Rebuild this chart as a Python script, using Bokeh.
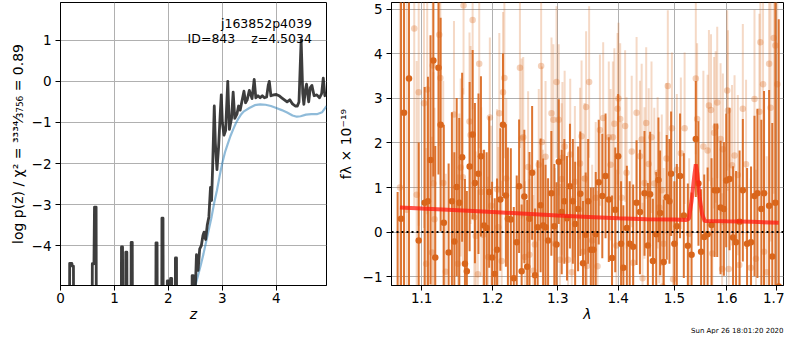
import numpy as np
from bokeh.plotting import figure
from bokeh.models import (Range1d, FixedTicker, CustomJSTickFormatter, Span, Label, Title,
                          ColumnDataSource)
from bokeh.layouts import row
from bokeh.embed import file_html
from bokeh.resources import INLINE

FONT = "DejaVu Sans"

# ---------------- left panel: log p(z) ----------------
z_pz = [0.00, 0.16, 0.17, 0.21, 0.22, 0.24, 0.25, 0.58, 0.59, 0.62, 0.63, 0.66, 0.67,
        1.12, 1.13, 1.15, 1.16, 1.20, 1.21, 1.23, 1.24, 1.30, 1.31, 1.33, 1.34,
        1.76, 1.77, 1.79, 1.80, 1.87, 1.88, 1.90, 1.91, 1.97, 1.98, 2.00, 2.01,
        2.03, 2.04, 2.06, 2.07, 2.12, 2.13, 2.15, 2.16, 2.43, 2.44, 2.46, 2.49,
        2.52, 2.55, 2.58, 2.61, 2.64, 2.66, 2.69, 2.72, 2.75, 2.78, 2.80, 2.82,
        2.85, 2.87, 2.90, 2.93, 2.96, 2.98, 3.00, 3.03, 3.06, 3.10, 3.13, 3.17,
        3.20, 3.23, 3.27, 3.30, 3.33, 3.36, 3.40, 3.43, 3.46, 3.50, 3.55, 3.59,
        3.62, 3.66, 3.70, 3.74, 3.78, 3.82, 3.85, 3.87, 3.90, 3.95, 4.00, 4.05,
        4.10, 4.15, 4.20, 4.25, 4.30, 4.35, 4.39, 4.42, 4.46, 4.49, 4.51, 4.54,
        4.56, 4.60, 4.63, 4.66, 4.70, 4.75, 4.80, 4.84, 4.87, 4.90, 4.93]
log_pz = [-10, -10, -4.43, -4.43, -4.50, -4.50, -10, -10, -4.44, -4.44, -3.06, -3.06, -10,
          -10, -4.03, -4.03, -10, -10, -4.16, -4.16, -10, -10, -3.92, -3.92, -10,
          -10, -3.93, -3.93, -10, -10, -3.33, -3.33, -10, -10, -4.86, -4.86, -10,
          -10, -4.80, -4.80, -10, -10, -4.30, -4.30, -10, -10, -4.73, -4.73, -5.40,
          -4.22, -4.60, -4.08, -4.00, -3.75, -3.67, -3.85, -3.50, -3.30, -2.58, -2.90, -2.08,
          -0.60, -1.50, -2.15, -1.60, -0.80, -0.33, -1.00, -1.31, -1.20, 0.00, -1.17, -0.90,
          -0.26, -0.90, -0.80, -0.60, -0.70, -0.50, -0.24, -0.52, -0.45, -0.22, -0.42, 0.05,
          -0.40, -0.35, -0.40, -0.35, -0.40, -0.38, -0.10, 0.00, -0.35, -0.33, -0.32, -0.35,
          -0.40, -0.45, -0.50, -0.45, -0.55, -0.60, -0.60, -0.50, 1.01, -0.30, -0.56, -0.20,
          -0.07, -0.50, -0.15, -0.10, -0.35, -0.33, -0.40, -0.30, 0.08, -0.35, -0.30]

z_prior = [2.50, 2.55, 2.60, 2.65, 2.70, 2.75, 2.80, 2.85, 2.90, 2.95, 3.00, 3.05, 3.10,
           3.15, 3.20, 3.25, 3.30, 3.35, 3.40, 3.50, 3.60, 3.70, 3.80, 3.90, 4.00, 4.10,
           4.20, 4.30, 4.38, 4.45, 4.55, 4.65, 4.75, 4.85, 4.93]
log_prior = [-4.97, -4.72, -4.47, -4.20, -3.90, -3.60, -3.30, -2.95, -2.65, -2.30, -1.98,
             -1.72, -1.52, -1.33, -1.17, -1.02, -0.90, -0.80, -0.73, -0.65, -0.58, -0.56,
             -0.57, -0.60, -0.65, -0.70, -0.76, -0.83, -0.86, -0.85, -0.81, -0.80, -0.80,
             -0.75, -0.60]

z_ticks = [0, 1, 2, 3, 4]
pz_ticks = [-4, -3, -2, -1, 0, 1]

# ---------------- right panel: spectrum ----------------
wl_dark = [1.068, 1.0725, 1.0764, 1.083, 1.096, 1.104, 1.1085, 1.112, 1.1159, 1.1185, 1.1229,
           1.1259, 1.1303, 1.137, 1.1416, 1.145, 1.1483, 1.1519, 1.156, 1.160, 1.1627,
           1.1667, 1.171, 1.1743, 1.1794, 1.183, 1.1875, 1.1913, 1.195, 1.1993, 1.2032,
           1.2066, 1.2115, 1.2154, 1.2198, 1.2228, 1.2272, 1.2317, 1.2361, 1.2397, 1.2436,
           1.2477, 1.2521, 1.2556, 1.2597, 1.2642, 1.2683, 1.2729, 1.2769, 1.2806, 1.2846,
           1.2898, 1.2945, 1.298, 1.3016, 1.3063, 1.3105, 1.3148, 1.3196, 1.3243, 1.328,
           1.3328, 1.3365, 1.3409, 1.3453, 1.3494, 1.3538, 1.358, 1.362, 1.367, 1.373,
           1.3785, 1.384, 1.3895, 1.395, 1.400, 1.405, 1.409, 1.415, 1.420, 1.426, 1.432,
           1.438, 1.446, 1.452, 1.456, 1.461, 1.467, 1.471, 1.474, 1.4805, 1.486, 1.491,
           1.494, 1.500, 1.5045, 1.5105, 1.5175, 1.525, 1.532, 1.540, 1.545, 1.550, 1.556,
           1.5625, 1.570, 1.576, 1.581, 1.5875, 1.594, 1.5985, 1.605, 1.612, 1.618, 1.625,
           1.6315, 1.640, 1.648, 1.655, 1.661, 1.669, 1.6745, 1.685, 1.6915, 1.698, 1.705,
           1.719]
fl_dark = [-1.60, 0.30, 2.68, 3.45, -0.19, 0.66, 0.69, 1.62, 3.85, -0.57, 3.69,
           2.41, 0.21, -0.46, 0.69, -0.21, 1.01, 0.66, 1.68, -0.71, -0.88,
           1.47, 2.19, 1.10, 1.31, 1.70, 0.15, 0.09, 0.90, -0.57, -0.94,
           -0.40, 0.73, 2.41, 0.82, 0.30, 0.28, -1.04, -0.23, 1.03, -0.88,
           0.80, -0.78, 0.30, 1.33, -0.97, 0.11, 0.60, 0.15, 0.11, -0.19,
           0.87, 0.13, -0.28, 1.58, 0.45, 0.69, 0.31, 1.03, 0.69, 0.18,
           0.52, 0.86, -0.70, -0.06, 0.69, -0.40, -0.40, -0.05, 1.12, 0.81,
           1.26, 0.73, -0.58, 0.50, 1.70, -0.26, -0.80, 0.09, -0.26, -0.33, 0.66,
           0.45, 0.87, -0.30, 0.85, -0.65, -0.05, 1.17, 0.43, -0.67, 0.78, 0.69,
           1.31, -0.26, 0.13, 1.26, 0.37, -0.31, -0.51, 2.09, 1.09, -0.44, -0.11,
           -0.05, 0.16, 0.94, 0.94, 0.55, 0.52, 1.16, 1.19, -0.12, -0.23, 0.23,
           0.94, -0.26, -0.23, 0.81, 0.87, 0.52, 0.87, 0.59, -0.55, 0.66, -1.22,
           -1.50]
er_dark = [2.50, 7.0, 7.0, 7.0, 2.2, 2.6, 2.8, 2.8, 2.6, 2.5, 2.4,
           2.4, 2.2, 2.0, 2.0, 2.0, 2.0, 1.9, 1.9, 1.9, 1.8,
           1.9, 1.9, 1.8, 1.8, 1.8, 1.7, 1.7, 1.7, 1.7, 1.7,
           1.6, 1.6, 1.6, 1.6, 1.6, 1.6, 1.6, 1.5, 1.5, 1.5,
           1.5, 1.5, 1.5, 1.5, 1.5, 1.5, 1.5, 1.5, 1.4, 1.4,
           1.4, 1.4, 1.4, 1.4, 1.4, 1.4, 1.4, 1.4, 1.4, 1.4,
           1.4, 1.4, 1.4, 1.4, 1.4, 1.4, 1.4, 1.4, 1.4, 1.4,
           1.4, 1.4, 1.4, 1.4, 1.4, 1.4, 1.4, 1.4, 1.4, 1.4, 1.4,
           1.4, 1.4, 1.4, 1.4, 1.4, 1.4, 1.4, 1.4, 1.4, 1.4, 1.4,
           1.4, 1.4, 1.4, 1.4, 1.4, 1.4, 1.4, 1.3, 1.4, 1.4, 1.4,
           1.5, 1.5, 1.5, 1.5, 1.5, 1.5, 1.5, 1.6, 1.6, 1.6, 1.6,
           1.6, 1.7, 1.7, 1.8, 1.9, 2.0, 2.3, 2.6, 3.0, 4.5, 6.0,
           3.3]

wl_light = [1.071, 1.080, 1.0900, 1.0933, 1.096, 1.1031, 1.106, 1.1075, 1.114, 1.115, 1.116,
            1.1175, 1.124, 1.1255, 1.1295, 1.133, 1.1445, 1.1500, 1.152, 1.154, 1.157,
            1.158, 1.1665, 1.168, 1.171, 1.1735, 1.1755, 1.1785, 1.1805, 1.1834, 1.186,
            1.1935, 1.196, 1.198, 1.2066, 1.2085, 1.21, 1.2135, 1.2155, 1.2175, 1.2204,
            1.241, 1.2436, 1.246, 1.2485, 1.2535, 1.2555, 1.2615, 1.264, 1.27, 1.2737,
            1.275, 1.2765, 1.2806, 1.29, 1.293, 1.2955, 1.298, 1.3015, 1.3035, 1.3063,
            1.3074, 1.311, 1.3165, 1.32, 1.3225, 1.3276, 1.336, 1.3385, 1.341, 1.3435,
            1.346, 1.3475, 1.351, 1.356, 1.362, 1.365, 1.369, 1.3745, 1.384, 1.387,
            1.391, 1.3935, 1.397, 1.399, 1.4005, 1.4035, 1.406, 1.412, 1.4145, 1.4235,
            1.426, 1.432, 1.438, 1.441, 1.4425, 1.446, 1.449, 1.4535, 1.4585, 1.4635,
            1.4695, 1.4725, 1.477, 1.4785, 1.4805, 1.4855, 1.488, 1.4955, 1.4975, 1.5045,
            1.512, 1.519, 1.5275, 1.540, 1.5425, 1.5544, 1.5625, 1.565, 1.569, 1.5715,
            1.575, 1.578, 1.581, 1.5875, 1.5905, 1.592, 1.6005, 1.602, 1.6035, 1.610,
            1.615, 1.6215, 1.6245, 1.6315, 1.638, 1.6475, 1.655, 1.658, 1.665, 1.667,
            1.6725, 1.6745, 1.680, 1.685, 1.688, 1.6945, 1.698, 1.702]
fl_light = [1.00, 0.50, 4.57, 0.84, 3.14, 2.89, -0.71, 3.20, -0.46, 3.74, 1.09,
            0.29, 4.43, 3.46, 1.10, -0.89, 2.64, -0.71, 0.66, 1.45, 1.23,
            5.09, 2.48, 2.18, 4.76, 0.33, -0.09, -0.95, 3.78, 0.90, -0.06,
            -0.56, 2.57, 0.59, 0.96, 0.11, 2.67, -0.65, 3.14, 3.46, 1.20,
            3.69, 2.10, 2.13, -0.56, 1.46, -0.51, -0.87, -0.28, 1.51, 3.73,
            2.02, 0.15, 1.69, 2.67, 2.52, -0.26, 3.37, 2.52, -0.62, 1.19,
            1.67, 1.92, -0.62, 1.74, -0.90, 1.13, 1.54, 2.15, -0.44, 1.20,
            2.81, -0.76, 3.37, -0.19, 0.77, -0.77, 2.29, 2.56, 2.13, 1.51,
            2.13, 2.43, -0.30, 2.77, 3.00, 2.54, 0.77, 2.38, 1.33, 1.81,
            -0.69, 2.68, 1.70, 2.08, -1.04, 1.10, 2.45, 1.53, 2.13, 1.09,
            1.33, 0.55, 0.94, -1.22, -0.26, 1.65, 3.28, 2.33, -1.06, 1.40,
            1.77, 2.33, -0.04, 3.45, 2.54, 1.92, 1.83, 2.84, 2.74, -0.48,
            2.23, 2.36, 2.91, 2.09, -0.83, 1.86, 3.18, 2.73, -0.83, 1.50,
            1.72, 1.28, -0.74, 2.77, 1.52, -0.80, 2.99, -0.60, 2.70, 4.26,
            3.32, -0.44, -0.90, 3.78, 2.79, 4.36, 4.19, 3.32]
er_light = [6.0, 6.0, 4.0, 3.0, 3.0, 2.8, 2.6, 2.8, 2.6, 2.6, 2.5,
            2.5, 2.5, 2.4, 2.3, 2.2, 2.1, 2.0, 2.0, 2.0, 2.0,
            2.0, 2.0, 2.0, 2.0, 1.9, 1.9, 1.9, 1.9, 1.9, 1.9,
            1.8, 1.8, 1.8, 1.8, 1.8, 1.8, 1.8, 1.8, 1.8, 1.8,
            1.8, 1.8, 1.8, 1.7, 1.7, 1.7, 1.7, 1.7, 1.7, 1.7,
            1.7, 1.7, 1.7, 1.7, 1.7, 1.7, 1.7, 1.7, 1.7, 1.7,
            1.7, 1.7, 1.7, 1.7, 1.7, 1.7, 1.7, 1.7, 1.7, 1.7,
            1.7, 1.7, 1.7, 1.7, 1.7, 1.7, 1.7, 1.7, 1.7, 1.7,
            1.7, 1.7, 1.7, 1.7, 1.7, 1.7, 1.7, 1.7, 1.7, 1.7,
            1.7, 1.7, 1.7, 1.7, 1.7, 1.7, 1.7, 1.7, 1.7, 1.7,
            1.7, 1.7, 1.7, 1.7, 1.7, 1.7, 1.7, 1.7, 1.7, 1.7,
            1.7, 1.7, 1.7, 1.7, 1.7, 1.7, 1.7, 1.7, 1.7, 1.7,
            1.7, 1.7, 1.7, 1.7, 1.7, 1.7, 1.8, 1.8, 1.8, 1.8,
            1.8, 1.8, 1.8, 1.9, 1.9, 2.0, 2.0, 2.0, 2.2, 2.2,
            2.4, 2.4, 2.6, 2.8, 3.0, 3.5, 4.0, 5.0]

wl_model = [1.071, 1.10, 1.15, 1.20, 1.25, 1.30, 1.35, 1.40, 1.45, 1.50, 1.522, 1.527,
            1.532, 1.537, 1.540, 1.543, 1.547, 1.552, 1.557, 1.60, 1.65, 1.705]
fl_model = [0.55, 0.53, 0.49, 0.45, 0.41, 0.37, 0.34, 0.31, 0.29, 0.28, 0.27, 0.30,
            0.70, 1.25, 1.52, 1.30, 0.80, 0.40, 0.25, 0.24, 0.23, 0.21]

wl_ticks = [1.1, 1.2, 1.3, 1.4, 1.5, 1.6, 1.7]
fl_ticks = [-1, 0, 1, 2, 3, 4, 5]

DARK = "#d9661c"
MINUS_FMT = "return tick < 0 ? '\\u2212' + (-tick) : '' + tick;"
BOTTOM = 48


def style(p, xticks, yticks, xfmt, xlabel, ylabel, ylab_standoff):
    p.outline_line_color = "black"
    p.outline_line_width = 1
    p.outline_line_alpha = 1
    p.xaxis.ticker = FixedTicker(ticks=xticks)
    p.yaxis.ticker = FixedTicker(ticks=yticks)
    p.xaxis.formatter = CustomJSTickFormatter(code=xfmt)
    p.yaxis.formatter = CustomJSTickFormatter(code=MINUS_FMT)
    for ax in (p.xaxis[0], p.yaxis[0]):
        ax.major_tick_out = 5
        ax.major_tick_in = 0
        ax.minor_tick_out = 0
        ax.minor_tick_in = 0
        ax.major_tick_line_color = "black"
        ax.axis_line_color = "black"
        ax.major_label_text_font = FONT
        ax.major_label_text_font_size = "13.5px"
        ax.major_label_text_color = "black"
        ax.axis_label_text_font = FONT
        ax.axis_label_text_font_size = "14px"
        ax.axis_label_text_color = "black"
    p.xaxis.major_label_standoff = 2
    p.yaxis.major_label_standoff = 4
    p.xaxis.axis_label = xlabel
    p.xaxis.axis_label_text_font_style = "italic"
    p.xaxis.axis_label_standoff = 0
    p.yaxis.axis_label = ylabel
    p.yaxis.axis_label_text_font_style = "normal"
    p.yaxis.axis_label_standoff = ylab_standoff
    p.grid.grid_line_color = "#b0b0b0"
    p.grid.grid_line_width = 1


# ---------- left figure ----------
p1 = figure(width=330, height=334, x_range=Range1d(0, 4.93), y_range=Range1d(-4.97, 1.92),
            output_backend="svg", toolbar_location=None,
            min_border_left=60, min_border_right=4, min_border_top=2, min_border_bottom=BOTTOM)
style(p1, z_ticks, pz_ticks, MINUS_FMT, "z",
      "log p(z) / \u03c7\u00b2 = \u00b3\u00b3\u00b3\u2074\u2044\u2083\u2087\u2085\u2086 = 0.89", 3)

p1.line(z_prior, log_prior, line_color="#1f77b4", line_alpha=0.5, line_width=2.2)
p1.line(z_pz, log_pz, line_color="#222222", line_alpha=0.88, line_width=2.8,
        line_join="round")

for txt, yy in (("j163852p4039", 1.40),
                ("ID=843\u00a0\u00a0\u00a0\u00a0z=4.5034", 1.04)):
    p1.add_layout(Label(x=4.66, y=yy, text=txt, text_align="right",
                        text_baseline="alphabetic", text_font=FONT,
                        text_font_size="12.5px", text_color="black"))

# ---------- right figure ----------
p2 = figure(width=454, height=334, x_axis_type="log", x_range=Range1d(1.06, 1.715),
            y_range=Range1d(-1.2, 5.155), output_backend="svg", toolbar_location=None,
            min_border_left=61, min_border_right=1, min_border_top=2, min_border_bottom=BOTTOM)
style(p2, wl_ticks, fl_ticks, "return tick.toFixed(1);", "\u03bb",
      "f\u03bb \u00d7 10\u207b\u00b9\u2079", 6)

wl_l = np.array(wl_light); fl_l = np.array(fl_light); er_l = np.array(er_light)
src_l = ColumnDataSource(dict(wl=wl_l, fl=fl_l, lo=fl_l - er_l, hi=fl_l + er_l))
wl_d = np.array(wl_dark); fl_d = np.array(fl_dark); er_d = np.array(er_dark)
src_d = ColumnDataSource(dict(wl=wl_d, fl=fl_d, lo=fl_d - er_d, hi=fl_d + er_d))

p2.segment(x0="wl", y0="lo", x1="wl", y1="hi", source=src_l, line_color=DARK,
           line_alpha=0.25, line_width=2)
p2.scatter("wl", "fl", source=src_l, size=6.5, fill_color=DARK, fill_alpha=0.3,
           line_color=None)
p2.segment(x0="wl", y0="lo", x1="wl", y1="hi", source=src_d, line_color=DARK,
           line_alpha=0.9, line_width=2)
p2.scatter("wl", "fl", source=src_d, size=6.5, fill_color=DARK, fill_alpha=1,
           line_color=None)
p2.line(wl_model, fl_model, line_color="#ff1a10", line_alpha=0.75, line_width=4)
p2.add_layout(Span(location=0, dimension="width", line_color="black", line_width=2,
                   line_dash="2 3"))

p2.add_layout(Title(text="Sun Apr 26 18:01:20 2020", align="right", standoff=0,
                    text_font=FONT, text_font_size="7px", text_font_style="normal",
                    text_color="black"), "below")

layout = row(p1, p2)
open("out.html", "w").write(file_html(layout, INLINE))
